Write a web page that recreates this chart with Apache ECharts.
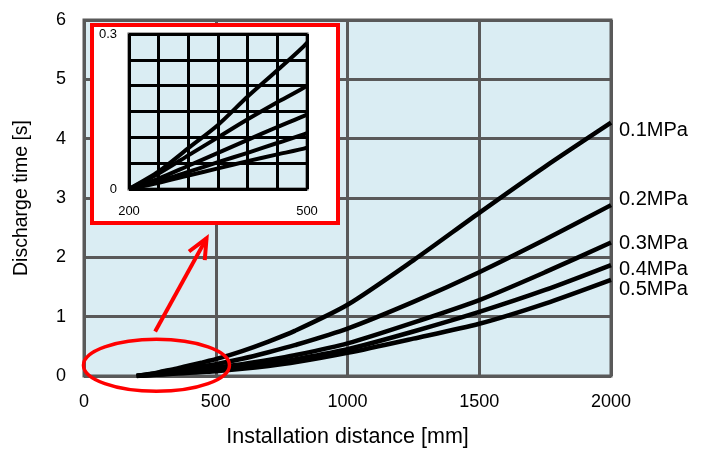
<!DOCTYPE html>
<html>
<head>
<meta charset="utf-8">
<script src="https://cdn.jsdelivr.net/npm/echarts@6/dist/echarts.min.js"></script>
<style>
  html, body { margin: 0; padding: 0; background: #fff; }
  #chart { width: 706px; height: 453px; }
</style>
</head>
<body>
<div id="chart"></div>
<script>
// installation distance [mm]
var distance = [200, 250, 300, 350, 400, 450, 500, 600, 700, 800, 1000, 1250, 1500, 1750, 2000];
// discharge time [s] per supply pressure
var p01 = [0, 0.034, 0.079, 0.124, 0.179, 0.23, 0.283, 0.42, 0.58, 0.76, 1.2, 1.95, 2.75, 3.53, 4.27];
var p02 = [0, 0.03, 0.065, 0.1, 0.135, 0.168, 0.2, 0.29, 0.4, 0.52, 0.8, 1.25, 1.75, 2.3, 2.88];
var p03 = [0, 0.02, 0.045, 0.07, 0.095, 0.12, 0.144, 0.2, 0.27, 0.35, 0.55, 0.9, 1.28, 1.75, 2.25];
var p04 = [0, 0.015, 0.033, 0.052, 0.07, 0.089, 0.108, 0.155, 0.21, 0.28, 0.45, 0.75, 1.08, 1.45, 1.87];
var p05 = [0, 0.012, 0.026, 0.04, 0.054, 0.067, 0.08, 0.12, 0.17, 0.23, 0.39, 0.63, 0.88, 1.22, 1.62];
var names = ['0.1MPa', '0.2MPa', '0.3MPa', '0.4MPa', '0.5MPa'];
var values = [p01, p02, p03, p04, p05];
// small nudge of the right-hand labels, as in the picture
var labelShift = [8, -6, 1, 4, 10];

var FONT = 'Liberation Sans, Arial, sans-serif';
var chart = echarts.init(document.getElementById('chart'));

function pairs(ys) {
  return distance.map(function (d, i) { return [d, ys[i]]; });
}

var series = [];
values.forEach(function (ys, i) {
  series.push({
    name: names[i], type: 'line', xAxisIndex: 0, yAxisIndex: 0,
    data: pairs(ys), showSymbol: false, smooth: 0.25,
    lineStyle: { color: '#000', width: 4.5 }, z: 2,
    endLabel: {
      show: true, formatter: names[i], color: '#000', fontFamily: FONT,
      fontSize: 20, distance: 8, offset: [0, labelShift[i]]
    }
  });
});
values.forEach(function (ys, i) {
  series.push({
    name: names[i] + ' zoom', type: 'line', xAxisIndex: 1, yAxisIndex: 1,
    data: pairs(ys), showSymbol: false, smooth: 0.25,
    lineStyle: { color: '#000', width: 4 }, z: 8, clip: true
  });
});

chart.setOption({
  animation: false,
  grid: [
    { left: 84, right: 95, top: 20, bottom: 73, show: true,
      backgroundColor: '#daedf3', borderColor: '#595959', borderWidth: 3 },
    { left: 129, right: 399, top: 34, bottom: 264, show: true, z: 6,
      backgroundColor: '#daedf3', borderColor: '#555', borderWidth: 3 }
  ],
  xAxis: [
    { type: 'value', gridIndex: 0, min: 0, max: 2000, interval: 500,
      name: 'Installation distance [mm]', nameLocation: 'middle', nameGap: 50,
      nameTextStyle: { fontFamily: FONT, fontSize: 21.5, color: '#000' },
      axisLine: { show: false }, axisTick: { show: false },
      axisLabel: { fontFamily: FONT, fontSize: 18, color: '#000', margin: 17,
        formatter: function (v) { return String(v); } },
      splitLine: { lineStyle: { color: '#595959', width: 3 } } },
    { type: 'value', gridIndex: 1, min: 200, max: 500, interval: 50, z: 7,
      axisLine: { show: false }, axisTick: { show: false },
      axisLabel: { fontFamily: FONT, fontSize: 13, color: '#000', margin: 16,
        formatter: function (v) { return (v === 200 || v === 500) ? String(v) : ''; } },
      splitLine: { lineStyle: { color: '#000', width: 3 } } }
  ],
  yAxis: [
    { type: 'value', gridIndex: 0, min: 0, max: 6, interval: 1,
      name: 'Discharge time [s]', nameLocation: 'middle', nameGap: 52,
      nameTextStyle: { fontFamily: FONT, fontSize: 19.5, color: '#000' },
      axisLine: { show: false }, axisTick: { show: false },
      axisLabel: { fontFamily: FONT, fontSize: 18, color: '#000', margin: 18 },
      splitLine: { lineStyle: { color: '#595959', width: 3 } } },
    { type: 'value', gridIndex: 1, min: 0, max: 0.3, interval: 0.05, z: 7,
      axisLine: { show: false }, axisTick: { show: false },
      axisLabel: { fontFamily: FONT, fontSize: 13, color: '#000', margin: 12,
        formatter: function (v) {
          if (Math.abs(v) < 1e-9) return '0';
          if (Math.abs(v - 0.3) < 1e-9) return '0.3';
          return '';
        } },
      splitLine: { lineStyle: { color: '#000', width: 3 } } }
  ],
  series: series
});

// annotations: red frame behind the zoomed view, ellipse round the start, arrow
var a0 = chart.convertToPixel({ gridIndex: 0 }, [275, 0.18]);
var tail = chart.convertToPixel({ gridIndex: 0 }, [270, 0.75]);
var head = chart.convertToPixel({ gridIndex: 0 }, [465, 2.32]);
var dx = head[0] - tail[0], dy = head[1] - tail[1];
var len = Math.sqrt(dx * dx + dy * dy), ux = dx / len, uy = dy / len;
var hl = 20, hw = 9;
var b1 = [head[0] - ux * hl - uy * hw, head[1] - uy * hl + ux * hw];
var b2 = [head[0] - ux * hl + uy * hw, head[1] - uy * hl - ux * hw];

chart.setOption({
  graphic: [
    { type: 'rect', z: 5, shape: { x: 92, y: 25, width: 246, height: 198 },
      style: { fill: '#fff', stroke: '#ff0000', lineWidth: 4 } },
    { type: 'ellipse', z: 9, shape: { cx: a0[0], cy: a0[1], rx: 73, ry: 26 },
      style: { fill: null, stroke: '#ff0000', lineWidth: 3.5 } },
    { type: 'polyline', z: 9, shape: { points: [tail, head] },
      style: { stroke: '#ff0000', lineWidth: 4 } },
    { type: 'polyline', z: 9, shape: { points: [b1, head, b2] },
      style: { stroke: '#ff0000', lineWidth: 4, fill: null } }
  ]
});
</script>
</body>
</html>
